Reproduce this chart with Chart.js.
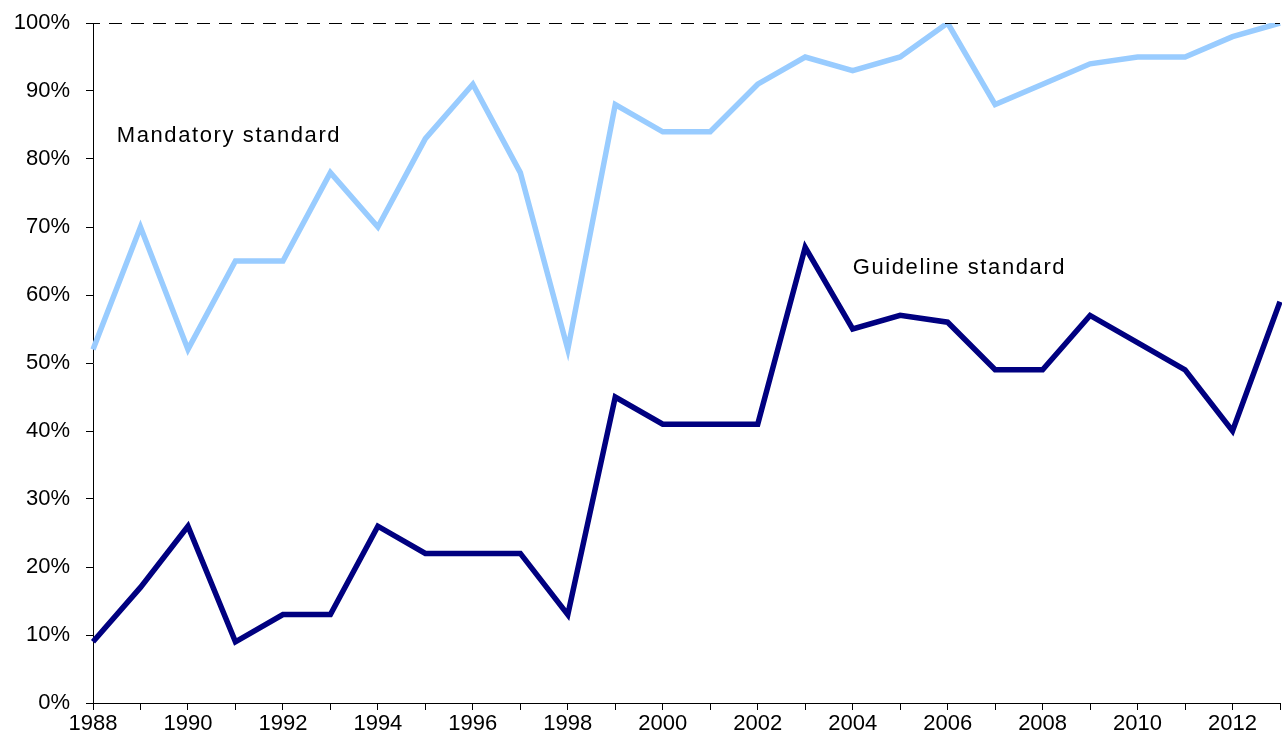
<!DOCTYPE html>
<html>
<head>
<meta charset="utf-8">
<script src="https://cdn.jsdelivr.net/npm/chart.js@4/dist/chart.umd.min.js"></script>
<style>
  html, body { margin: 0; padding: 0; background: #fff; }
  #wrap { width: 1282px; height: 745px; }
</style>
</head>
<body>
<div id="wrap"><canvas id="lineChart"></canvas></div>
<script>
const years = ['1988','1989','1990','1991','1992','1993','1994','1995','1996','1997','1998','1999','2000',
  '2001','2002','2003','2004','2005','2006','2007','2008','2009','2010','2011','2012','2013'];
const mandatory = [52, 70, 52, 65, 65, 78, 70, 83, 91, 78, 52, 88, 84, 84, 91, 95, 93, 95, 100, 88, 91, 94, 95, 95, 98, 100];
const guideline = [9, 17, 26, 9, 13, 13, 26, 22, 22, 22, 13, 45, 41, 41, 41, 67, 55, 57, 56, 49, 49, 57, 53, 49, 40, 59];
const ceiling = years.map(() => 100);
const yTicks = [0, 10, 20, 30, 40, 50, 60, 70, 80, 90, 100];

const FONT = 'Liberation Sans, Arial, sans-serif';

// series labels written inside the plot
const seriesLabels = {
  id: 'seriesLabels',
  afterDatasetsDraw(chart) {
    const { ctx, scales: { x, y } } = chart;
    ctx.save();
    ctx.font = '22px ' + FONT;
    ctx.letterSpacing = '1.6px';
    ctx.fillStyle = '#000';
    ctx.textBaseline = 'middle';
    ctx.textAlign = 'left';
    ctx.fillText('Mandatory standard', x.getPixelForValue(0.5), y.getPixelForValue(83.4));
    ctx.fillText('Guideline standard', x.getPixelForValue(16), y.getPixelForValue(64));
    ctx.restore();
  }
};

let lineCtx = document.getElementById('lineChart');
let lineConfig = {
  type: 'line',
  data: {
    labels: years,
    datasets: [{
      label: 'ceiling',
      data: ceiling,
      borderColor: '#000',
      borderWidth: 2,
      borderDash: [13, 9],
      borderDashOffset: 6,
      pointRadius: 0,
    }, {
      label: 'Mandatory standard',
      data: mandatory,
      borderColor: '#99ccff',
      borderWidth: 5.5,
      pointRadius: 0,
      tension: 0,
    }, {
      label: 'Guideline standard',
      data: guideline,
      borderColor: '#000080',
      borderWidth: 5.5,
      pointRadius: 0,
      tension: 0,
    }],
  },
  options: {
    responsive: true,
    maintainAspectRatio: false,
    animation: false,
    layout: { padding: { top: 23, right: 2, left: 0, bottom: 0 } },
    plugins: { legend: { display: false }, tooltip: { enabled: false } },
    elements: { line: { borderJoinStyle: 'miter', borderCapStyle: 'butt' } },
    scales: {
      x: {
        type: 'category',
        offset: false,
        grid: { drawOnChartArea: false, tickLength: 7, color: '#000', lineWidth: 1 },
        border: { display: true, color: '#000', width: 1 },
        ticks: {
          autoSkip: false,
          maxRotation: 0,
          padding: 1,
          color: '#000',
          font: { family: FONT, size: 22 },
          callback: (v, i) => (i % 2 === 0 ? years[i] : ''),
        },
        afterFit: s => { s.height = 42; s.paddingLeft = 0; s.paddingRight = 0; },
      },
      y: {
        min: 0,
        max: 100,
        afterBuildTicks: s => { s.ticks = yTicks.map(v => ({ value: v })); },
        grid: { drawOnChartArea: false, tickLength: 7, color: '#000', lineWidth: 1 },
        border: { display: true, color: '#000', width: 1 },
        ticks: {
          padding: 16,
          color: '#000',
          font: { family: FONT, size: 22 },
          callback: v => v + '%',
        },
        afterFit: s => { s.width = 93; s.paddingTop = 0; s.paddingBottom = 0; },
      },
    },
  },
  plugins: [seriesLabels],
};
let lineChart = new Chart(lineCtx, lineConfig);
</script>
</body>
</html>
